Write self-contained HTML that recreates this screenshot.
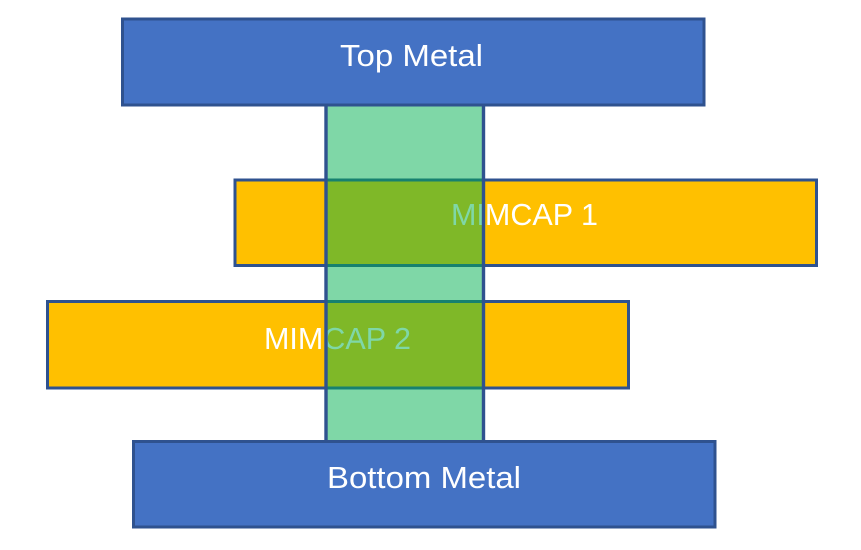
<!DOCTYPE html>
<html>
<head>
<meta charset="utf-8">
<style>
html,body{margin:0;padding:0;background:#fff;width:861px;height:550px;overflow:hidden}
svg{display:block}
text{font-family:"Liberation Sans",sans-serif;font-size:31px;fill:#fff}
</style>
</head>
<body>
<svg width="861" height="550" viewBox="0 0 861 550" xmlns="http://www.w3.org/2000/svg">
  <rect width="861" height="550" fill="#fff"/>
  <rect x="235" y="180" width="581.5" height="85.5" fill="#FFC000" stroke="#2F528F" stroke-width="3"/>
  <rect x="47.5" y="301.5" width="581" height="86.5" fill="#FFC000" stroke="#2F528F" stroke-width="3"/>
  <text x="451" y="225" textLength="147" lengthAdjust="spacingAndGlyphs">MIMCAP 1</text>
  <text x="264" y="349" textLength="147" lengthAdjust="spacingAndGlyphs">MIMCAP 2</text>
  <rect x="326" y="100" width="157.5" height="345" fill="#00B050" fill-opacity="0.5"/>
  <line x1="326" y1="100" x2="326" y2="445" stroke="#2F528F" stroke-width="3.4"/>
  <line x1="483.5" y1="100" x2="483.5" y2="445" stroke="#2F528F" stroke-width="3.4"/>
  <rect x="122.5" y="19" width="581.5" height="86" fill="#4472C4" stroke="#2F528F" stroke-width="3"/>
  <rect x="133.5" y="441.5" width="581.5" height="85.5" fill="#4472C4" stroke="#2F528F" stroke-width="3"/>
  <text x="340" y="66" textLength="143" lengthAdjust="spacingAndGlyphs">Top Metal</text>
  <text x="327" y="488" textLength="194" lengthAdjust="spacingAndGlyphs">Bottom Metal</text>
</svg>
</body>
</html>
